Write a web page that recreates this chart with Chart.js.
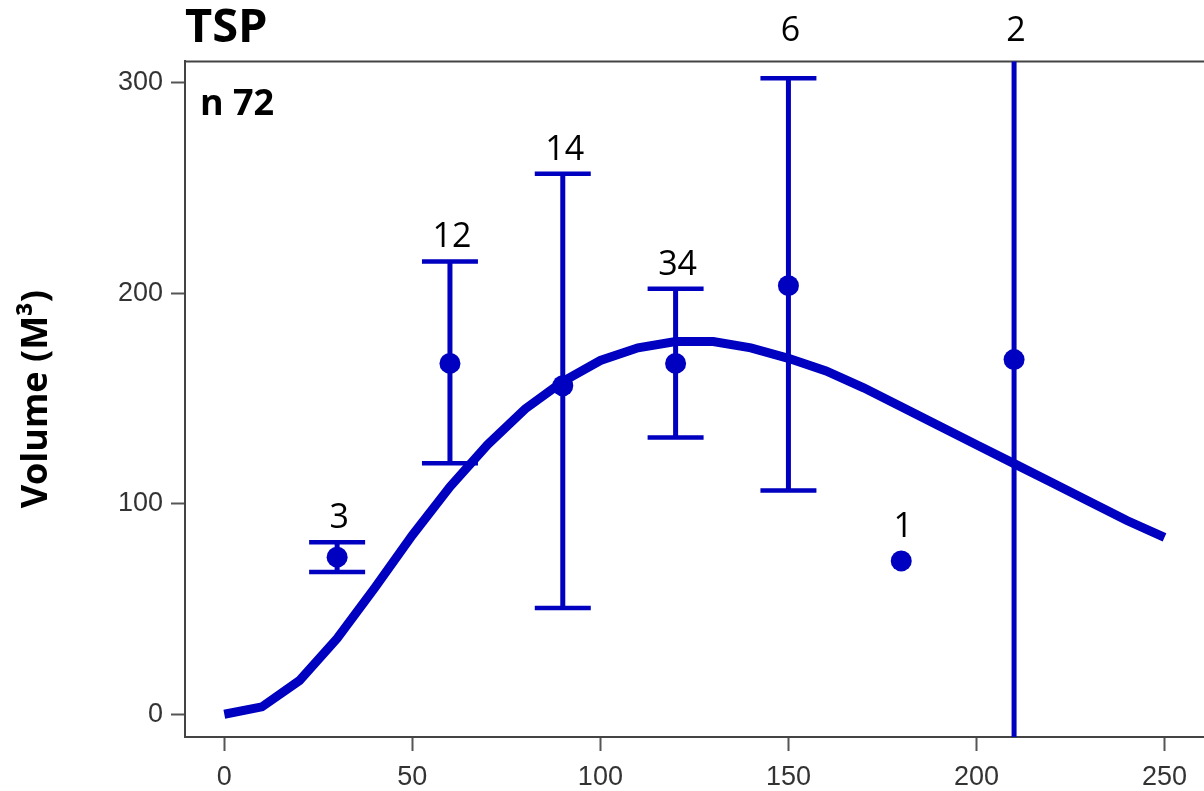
<!DOCTYPE html>
<html>
<head>
<meta charset="utf-8">
<title>TSP</title>
<script src="https://cdn.jsdelivr.net/npm/chart.js@4/dist/chart.umd.min.js"></script>
<style>
    html, body { margin: 0; padding: 0; background: #fff; overflow: hidden; }
    canvas { display: block; }
</style>
</head>
<body>
<canvas id="myChart" width="1204" height="791"></canvas>
<script>
const blue = '#0000c0';

// fitted curve, one sample every 10 units
const curveX = [0, 10, 20, 30, 40, 50, 60, 70, 80, 90, 100, 110, 120, 130, 140, 150, 160, 170, 180, 190, 200, 210, 220, 230, 240, 250];
const curveY = [0, 3.5, 16, 36, 60, 85, 108, 128, 145, 158, 168, 174, 177, 177, 174, 169, 163, 155, 146, 137, 128, 119, 110, 101, 92, 84];

// group means, their spread and group sizes
const groupX = [30, 60, 90, 120, 150, 180, 210];
const groupMean = [74.6, 166.6, 156, 166.6, 203.5, 72.8, 168.4];
const groupLow = [67.5, 119.2, 50.4, 131.4, 106.3, null, -60];
const groupHigh = [81.7, 215, 256.7, 202, 302, null, 420];
const groupCount = [3, 12, 14, 34, 6, 1, 2];

const sampleSize = 72;
const xTicks = [0, 50, 100, 150, 200, 250];
const yTicks = [0, 100, 200, 300];

// error bars, group sizes and the top frame line
const errorBars = {
    id: 'errorBars',
    afterDatasetsDraw(chart) {
        const { ctx, chartArea } = chart;
        const x = chart.scales.x;
        const y = chart.scales.y;

        ctx.save();
        ctx.strokeStyle = '#444';
        ctx.lineWidth = 2;
        ctx.beginPath();
        ctx.moveTo(chartArea.left - 1, chartArea.top);
        ctx.lineTo(chartArea.right, chartArea.top);
        ctx.stroke();

        ctx.beginPath();
        ctx.rect(chartArea.left, chartArea.top, chartArea.right - chartArea.left, chartArea.bottom - chartArea.top);
        ctx.clip();
        ctx.strokeStyle = blue;
        groupX.forEach((gx, i) => {
            if (groupLow[i] === null) return;
            const px = x.getPixelForValue(gx);
            const lo = y.getPixelForValue(groupLow[i]);
            const hi = y.getPixelForValue(groupHigh[i]);
            ctx.lineWidth = 5;
            ctx.beginPath();
            ctx.moveTo(px, lo);
            ctx.lineTo(px, hi);
            ctx.stroke();
            ctx.lineWidth = 4.5;
            ctx.beginPath();
            ctx.moveTo(px - 28, lo);
            ctx.lineTo(px + 28, lo);
            ctx.moveTo(px - 28, hi);
            ctx.lineTo(px + 28, hi);
            ctx.stroke();
        });
        ctx.restore();

        ctx.save();
        ctx.fillStyle = '#000';
        ctx.textAlign = 'center';
        ctx.textBaseline = 'alphabetic';
        ctx.font = '34px "Open Sans"';
        groupX.forEach((gx, i) => {
            const px = x.getPixelForValue(gx) + 2;
            let base;
            if (groupHigh[i] === null) {
                base = y.getPixelForValue(groupMean[i]) - 24;
            } else {
                base = y.getPixelForValue(groupHigh[i]) - 14;
            }
            if (base < chartArea.top + 24) {
                base = chartArea.top - 20;
            }
            ctx.fillText(String(groupCount[i]), px, base);
        });

        ctx.textAlign = 'left';
        ctx.font = 'bold 36px "Open Sans"';
        ctx.fillText('n ' + sampleSize, chartArea.left + 15, chartArea.top + 54);
        ctx.restore();
    }
};

function loadChart() {
    const chartData = {
        datasets: [
            {
                label: 'curve',
                data: curveX.map((v, i) => ({ x: v, y: curveY[i] })),
                showLine: true,
                borderColor: blue,
                borderWidth: 9,
                pointRadius: 0,
                fill: false,
                tension: 0
            },
            {
                label: 'means',
                data: groupX.map((v, i) => ({ x: v, y: groupMean[i] })),
                showLine: false,
                pointRadius: 10.5,
                pointBackgroundColor: blue,
                pointBorderWidth: 0,
                clip: false
            }]
    };

    const config = {
        type: 'scatter',
        data: chartData,
        options: {
            responsive: false,
            animation: false,
            layout: {
                autoPadding: false,
                padding: 0
            },
            plugins: {
                legend: { display: false },
                tooltip: { enabled: false },
                title: {
                    display: true,
                    text: 'TSP',
                    align: 'start',
                    fullSize: false,
                    color: '#000',
                    font: { family: '"Open Sans"', size: 47, weight: 'bold' },
                    padding: { top: 0, bottom: 5 }
                }
            },
            scales: {
                x: {
                    type: 'linear',
                    min: -10.45,
                    max: 260.5,
                    afterBuildTicks: scale => { scale.ticks = xTicks.map(v => ({ value: v })); },
                    afterFit: scale => { scale.height = 54; },
                    grid: {
                        drawOnChartArea: false,
                        drawTicks: true,
                        tickLength: 14,
                        tickColor: '#555',
                        tickWidth: 2
                    },
                    border: { color: '#444', width: 2 },
                    ticks: {
                        color: '#333',
                        padding: 10,
                        maxRotation: 0,
                        font: { family: '"Liberation Sans", Arial, sans-serif', size: 27 }
                    }
                },
                y: {
                    type: 'linear',
                    min: -10.8,
                    max: 310,
                    afterBuildTicks: scale => { scale.ticks = yTicks.map(v => ({ value: v })); },
                    afterFit: scale => { scale.width = 185; },
                    grid: {
                        drawOnChartArea: false,
                        drawTicks: true,
                        tickLength: 14,
                        tickColor: '#555',
                        tickWidth: 2
                    },
                    border: { color: '#444', width: 2 },
                    ticks: {
                        color: '#333',
                        padding: 8,
                        font: { family: '"Liberation Sans", Arial, sans-serif', size: 27 }
                    },
                    title: {
                        display: true,
                        text: 'Volume (M³)',
                        color: '#000',
                        font: { family: '"Open Sans"', size: 36, weight: 'bold' },
                        padding: { top: 15, bottom: 0 }
                    }
                }
            }
        },
        plugins: [errorBars]
    };

    const ctx = document.getElementById('myChart').getContext('2d');

    if (ctx) {
        new Chart(ctx, config);
    }
}

loadChart();
</script>
</body>
</html>
